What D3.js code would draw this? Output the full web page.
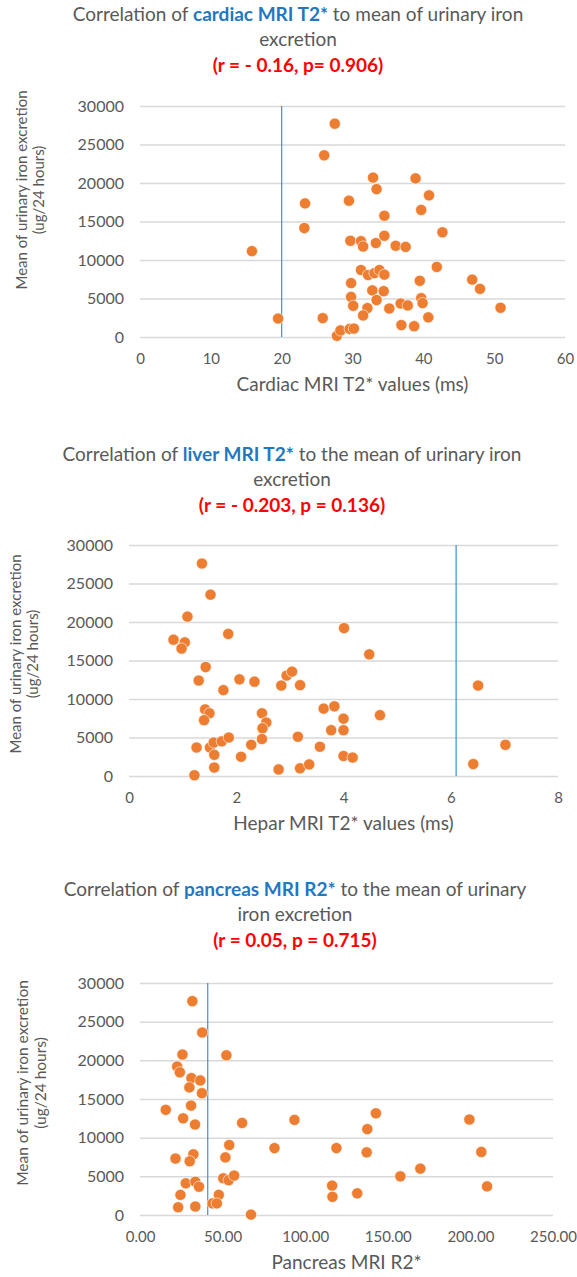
<!DOCTYPE html>
<html>
<head>
<meta charset="utf-8">
<script src="https://cdn.jsdelivr.net/npm/d3@7"></script>
<style>
  body { margin: 0; background: #fff; }
  svg { font-family: Lato, "Open Sans", sans-serif; }
  .tick text { fill: #595959; }
</style>
</head>
<body>
<div id="chart"></div>
<script>
// values
var cardiacT2 = [27.5, 26.0, 32.9, 38.9, 33.4, 40.8, 23.3, 29.5, 39.7, 34.5, 23.2, 42.7, 29.7, 31.2, 31.5,
  33.3, 34.5, 36.1, 37.5, 41.9, 31.2, 32.2, 33.1, 33.8, 34.5, 46.9, 48.0, 39.5, 29.8, 32.8, 34.4, 29.8,
  33.4, 30.1, 32.1, 31.5, 35.2, 36.8, 37.8, 39.7, 39.9, 50.9, 40.7, 36.9, 38.7, 25.8, 27.8, 28.3, 29.6,
  30.2, 19.5, 15.8];
var cardiacIron = [27700, 23600, 20700, 20600, 19200, 18400, 17350, 17700, 16500, 15750, 14150, 13600,
  12500, 12450, 11750, 12200, 13150, 11850, 11700, 9100, 8700, 8050, 8300, 8700, 8100, 7450, 6250, 7300,
  7000, 6050, 5950, 5200, 4800, 4050, 3750, 2800, 3700, 4350, 4100, 5050, 4400, 3800, 2550, 1550, 1400,
  2450, 150, 850, 1050, 1100, 2400, 11150];

var liverT2 = [1.36, 1.52, 1.09, 0.83, 1.04, 0.98, 1.85, 1.43, 1.30, 2.06, 2.34, 1.76, 2.84, 2.94, 3.04,
  3.19, 1.42, 1.50, 1.40, 2.48, 2.56, 2.49, 2.48, 1.26, 1.51, 1.58, 1.59, 1.73, 1.86, 2.28, 2.09, 1.59,
  1.22, 2.79, 3.19, 3.36, 3.15, 3.56, 3.63, 3.83, 4.01, 4.48, 4.00, 4.68, 3.77, 4.00, 4.00, 4.17, 6.51,
  7.02, 6.42];
var liverIron = [27600, 23550, 20700, 17700, 17350, 16550, 18450, 14150, 12400, 12550, 12250, 11150,
  11750, 13050, 13550, 11800, 8650, 8150, 7250, 8150, 6950, 6200, 4800, 3700, 3700, 4350, 2750, 4500,
  5000, 4050, 2500, 1100, 100, 850, 1000, 1500, 5100, 3800, 8750, 9050, 19200, 15800, 7450, 7900, 5950,
  5950, 2600, 2400, 11750, 4050, 1550];

var pancreasR2 = [31.7, 37.7, 25.7, 52.3, 22.5, 24.1, 31.1, 36.5, 29.9, 37.5, 30.9, 15.6, 26.1, 33.3,
  61.8, 93.5, 54.0, 81.4, 32.3, 30.1, 21.5, 51.7, 50.4, 53.7, 57.0, 27.7, 33.5, 35.7, 24.5, 47.7, 23.1,
  33.5, 43.9, 46.5, 67.2, 142.8, 137.6, 118.9, 137.2, 199.4, 206.6, 210.1, 169.7, 157.6, 116.3, 116.5,
  131.5];
var pancreasIron = [27650, 23600, 20750, 20650, 19200, 18450, 17700, 17400, 16500, 15750, 14150, 13600,
  12500, 11700, 11900, 12300, 9050, 8650, 7850, 6950, 7300, 7450, 4750, 4500, 5100, 4100, 4300, 3650,
  2600, 2600, 1000, 1100, 1500, 1500, 50, 13150, 11100, 8650, 8100, 12350, 8150, 3700, 6000, 5000, 3800,
  2350, 2800];

// tick labels
var ironTicks = [0, 5000, 10000, 15000, 20000, 25000, 30000];
var cardiacTicks = [0, 10, 20, 30, 40, 50, 60];
var liverTicks = [0, 2, 4, 6, 8];
var pancreasTicks = [0, 50, 100, 150, 200, 250];

// cutoff lines
var cardiacCutoff = 20;
var liverCutoff = 6.1;
var pancreasCutoff = 41;

var svgWidth = 577;
var svgHeight = 1277;

var svg = d3.select("#chart")
  .append("svg")
  .attr("width", svgWidth)
  .attr("height", svgHeight);

function drawChart(cfg) {
  var g = svg.append("g");

  var x = d3.scaleLinear().domain(cfg.xDomain).range([cfg.left, cfg.right]);
  var y = d3.scaleLinear().domain([0, 30000]).range([cfg.bottom, cfg.top]);

  // title, three lines
  var t1 = g.append("text")
    .attr("x", cfg.titleX)
    .attr("y", cfg.titleY)
    .attr("text-anchor", "middle")
    .attr("font-size", "19px")
    .attr("fill", "#595959");
  t1.append("tspan").text(cfg.title[0]);
  t1.append("tspan").attr("fill", "#1f78c1").attr("font-weight", "bold").text(cfg.title[1]);
  t1.append("tspan").text(cfg.title[2]);

  g.append("text")
    .attr("x", cfg.titleX)
    .attr("y", cfg.titleY + 25)
    .attr("text-anchor", "middle")
    .attr("font-size", "19px")
    .attr("fill", "#595959")
    .text(cfg.title[3]);

  g.append("text")
    .attr("x", cfg.titleX)
    .attr("y", cfg.titleY + 51)
    .attr("text-anchor", "middle")
    .attr("font-size", "19px")
    .attr("font-weight", "bold")
    .attr("fill", "#ff0000")
    .text(cfg.stats);

  // horizontal gridlines + y labels
  var yAxis = g.append("g")
    .attr("transform", `translate(${cfg.left}, 0)`)
    .call(d3.axisLeft(y).tickValues(ironTicks).tickFormat(d3.format("d"))
      .tickSize(-(cfg.right - cfg.left)).tickPadding(16));
  yAxis.select(".domain").remove();
  yAxis.selectAll("line").attr("stroke", "#d9d9d9").attr("stroke-width", 1.5);
  yAxis.selectAll("text").attr("font-size", "16px").attr("font-family", "Lato");

  // x labels
  var xAxis = g.append("g")
    .attr("transform", `translate(0, ${cfg.bottom})`)
    .call(d3.axisBottom(x).tickValues(cfg.xTicks).tickSize(0).tickPadding(16).tickFormat(cfg.xFormat));
  xAxis.select(".domain").remove();
  xAxis.selectAll("text").attr("font-size", "15px").attr("font-family", "Lato");

  // axis titles
  g.append("text")
    .attr("x", (cfg.left + cfg.right) / 2)
    .attr("y", cfg.bottom + 54)
    .attr("text-anchor", "middle")
    .attr("font-size", "19px")
    .attr("fill", "#595959")
    .text(cfg.xLabel);

  var yt = g.append("text")
    .attr("transform", `translate(${cfg.yTitleX}, ${cfg.yTitleY}) rotate(-90)`)
    .attr("text-anchor", "middle")
    .attr("font-size", cfg.yTitleSize)
    .attr("fill", "#595959");
  yt.append("tspan").attr("x", 0).attr("dy", 0).text("Mean of urinary iron excretion");
  yt.append("tspan").attr("x", 0).attr("dy", "1.15em").text("(ug/24 hours)");

  // cutoff line
  g.append("line")
    .attr("x1", x(cfg.cutoff))
    .attr("x2", x(cfg.cutoff))
    .attr("y1", y(30000))
    .attr("y2", y(0))
    .attr("stroke", "#3d8fd6")
    .attr("stroke-width", 1.2);

  // points
  g.selectAll("circle")
    .data(cfg.xs)
    .enter()
    .append("circle")
    .attr("cx", d => x(d))
    .attr("cy", (d, i) => y(cfg.ys[i]))
    .attr("r", 5.6)
    .attr("fill", "#ed7d31")
    .attr("stroke", "#fff")
    .attr("stroke-width", 0.6);
}

drawChart({
  xs: cardiacT2, ys: cardiacIron, xDomain: [0, 60], xTicks: cardiacTicks, xFormat: d3.format("d"),
  left: 140, right: 565, top: 106, bottom: 337, cutoff: cardiacCutoff,
  titleX: 298, titleY: 21,
  title: ["Correlation of ", "cardiac MRI T2*", " to mean of urinary iron", "excretion"],
  stats: "(r = - 0.16, p= 0.906)",
  xLabel: "Cardiac MRI T2* values (ms)",
  yTitleX: 27, yTitleY: 190, yTitleSize: "15px"
});

drawChart({
  xs: liverT2, ys: liverIron, xDomain: [0, 8], xTicks: liverTicks, xFormat: d3.format("d"),
  left: 129, right: 558, top: 545, bottom: 776, cutoff: liverCutoff,
  titleX: 292, titleY: 461,
  title: ["Correlation of ", "liver MRI T2*", " to the mean of urinary iron", "excretion"],
  stats: "(r = - 0.203, p = 0.136)",
  xLabel: "Hepar MRI T2* values (ms)",
  yTitleX: 21, yTitleY: 654, yTitleSize: "15px"
});

drawChart({
  xs: pancreasR2, ys: pancreasIron, xDomain: [0, 250], xTicks: pancreasTicks, xFormat: d3.format(".2f"),
  left: 140, right: 553, top: 983, bottom: 1215, cutoff: pancreasCutoff,
  titleX: 295, titleY: 896,
  title: ["Correlation of ", "pancreas MRI R2*", " to the mean of urinary", "iron excretion"],
  stats: "(r = 0.05, p = 0.715)",
  xLabel: "Pancreas MRI R2*",
  yTitleX: 28, yTitleY: 1083, yTitleSize: "15.5px"
});
</script>
</body>
</html>
